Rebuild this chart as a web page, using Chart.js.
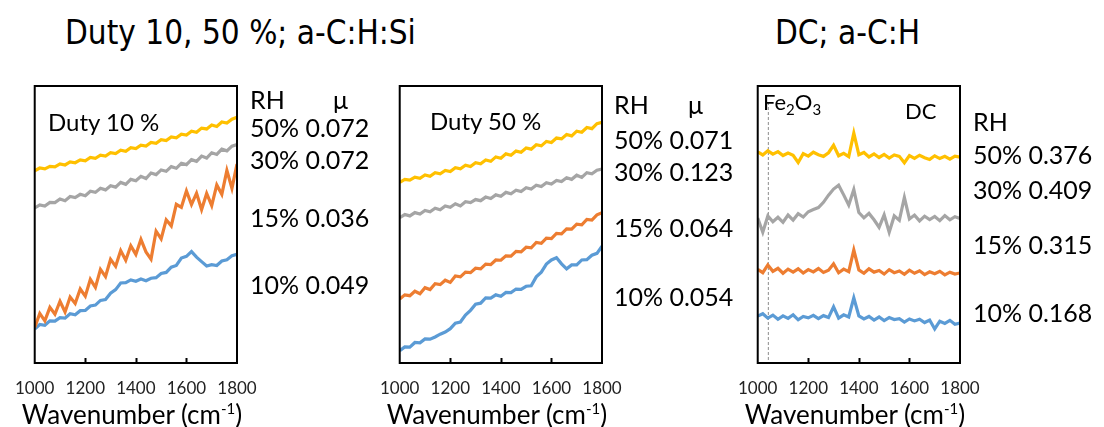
<!DOCTYPE html>
<html>
<head>
<meta charset="utf-8">
<script src="https://cdn.jsdelivr.net/npm/chart.js@4"></script>
<style>
  body { margin: 0; width: 1104px; height: 427px; background: #fff; position: relative; overflow: hidden; font-family: Lato, sans-serif; color: #000; }
  canvas { position: absolute; }
  .t { position: absolute; white-space: nowrap; line-height: 1; font-size: 25px; }
  .title { font-family: "Liberation Sans Narrow", "DejaVu Sans Condensed", sans-serif; font-size: 33px; top: 16px; }
  .ax { width: 300px; text-align: center; font-size: 26px; top: 401px; }
  .ax sup { font-size: 15px; vertical-align: 10px; line-height: 0; }
  sub { font-size: 15px; vertical-align: -5px; line-height: 0; }
</style>
</head>
<body>
<div class="t title" style="left:65px">Duty 10, 50 %; a-C:H:Si</div>
<div class="t title" style="left:775px">DC; a-C:H</div>

<canvas id="duty10" width="275" height="347" style="left:0;top:80px"></canvas>
<canvas id="duty50" width="275" height="347" style="left:365px;top:80px"></canvas>
<canvas id="dc" width="275" height="347" style="left:723px;top:80px"></canvas>

<!-- panel 1 -->
<div class="t" style="left:48px;top:110px;font-size:24px">Duty 10 %</div>
<div class="t" style="left:250px;top:87px">RH</div>
<div class="t" style="left:333px;top:87px">μ</div>
<div class="t" style="left:250px;top:115px">50% 0.072</div>
<div class="t" style="left:250px;top:147px">30% 0.072</div>
<div class="t" style="left:250px;top:205px">15% 0.036</div>
<div class="t" style="left:250px;top:272px">10% 0.049</div>
<div class="t ax" style="left:-18px">Wavenumber (cm<sup>-1</sup>)</div>

<!-- panel 2 -->
<div class="t" style="left:430px;top:109px;font-size:24px">Duty 50 %</div>
<div class="t" style="left:614px;top:92px">RH</div>
<div class="t" style="left:688px;top:92px">μ</div>
<div class="t" style="left:614px;top:127px">50% 0.071</div>
<div class="t" style="left:614px;top:159px">30% 0.123</div>
<div class="t" style="left:614px;top:215px">15% 0.064</div>
<div class="t" style="left:614px;top:284px">10% 0.054</div>
<div class="t ax" style="left:347px">Wavenumber (cm<sup>-1</sup>)</div>

<!-- panel 3 -->
<div class="t" style="left:763px;top:91px;font-size:22px">Fe<sub>2</sub>O<sub>3</sub></div>
<div class="t" style="left:905px;top:100px;font-size:22px">DC</div>
<div class="t" style="left:973px;top:109px">RH</div>
<div class="t" style="left:973px;top:142px">50% 0.376</div>
<div class="t" style="left:973px;top:177px">30% 0.409</div>
<div class="t" style="left:973px;top:232px">15% 0.315</div>
<div class="t" style="left:973px;top:300px">10% 0.168</div>
<div class="t ax" style="left:705px">Wavenumber (cm<sup>-1</sup>)</div>

<script>
// wavenumber axis (cm-1)
const wavenumbers = [1000,1020,1040,1060,1080,1100,1120,1140,1160,1180,1200,1220,1240,1260,1280,1300,1320,1340,1360,1380,1400,
  1420,1440,1460,1480,1500,1520,1540,1560,1580,1600,1620,1640,1660,1680,1700,1720,1740,1760,1780,1800];
const xTicks = [1000, 1200, 1400, 1600, 1800];
const fe2o3Line = 1042;

// Duty 10 %, a-C:H:Si (intensity, arbitrary offset units)
const duty10_rh50 = [69.4,70.4,70.1,71.0,70.8,71.9,71.5,72.6,72.3,73.3,73.0,74.2,73.9,75.0,74.7,75.9,75.6,76.8,76.4,77.7,77.4,
  78.6,78.3,79.6,79.3,80.6,80.3,81.6,81.3,82.6,82.3,83.7,83.3,84.8,84.5,85.9,85.4,87.0,86.6,88.0,88.7];
const duty10_rh30 = [56.0,57.1,56.7,58.0,57.9,59.2,58.6,60.1,59.7,60.9,60.4,62.0,61.6,63.1,62.5,64.0,63.5,65.2,64.5,66.3,65.8,
  67.4,66.6,68.6,68.0,69.7,69.2,70.9,70.3,72.1,71.6,73.4,72.8,74.7,74.0,75.9,75.3,77.2,76.6,78.3,78.9];
const duty10_rh15 = [12.8,17.9,15.2,20.1,17.6,22.3,18.4,23.8,21.5,26.7,24.1,30.2,27.3,33.8,31.2,37.4,34.9,40.6,37.1,42.3,39.2,
  44.6,40.1,37.5,47.6,44.8,51.7,49.5,57.3,56.2,62.1,57.2,61.3,55.4,61.2,56.8,64.3,60.9,69.5,63.1,71.8];
const duty10_rh10 = [12.3,13.9,13.6,15.2,15.1,16.4,16.2,17.8,17.4,18.9,19.0,20.6,20.9,22.6,22.9,25.2,26.5,28.9,29.0,30.0,29.5,
  30.3,29.7,30.6,30.8,32.3,32.7,34.6,35.2,37.9,38.5,40.2,38.2,36.6,35.0,35.5,35.2,36.8,37.3,38.7,39.2];

// Duty 50 %, a-C:H:Si
const duty50_rh50 = [65.2,66.3,66.0,67.1,66.7,67.9,67.4,68.7,68.3,69.5,69.1,70.5,70.1,71.4,70.9,72.3,71.9,73.3,72.8,74.4,73.9,
  75.5,75.0,76.5,76.1,77.6,77.2,78.8,78.4,80.0,79.6,81.2,80.9,82.5,82.0,83.7,83.3,85.0,84.6,86.4,86.9];
const duty50_rh30 = [52.5,53.6,53.1,54.3,53.8,55.1,54.6,55.9,55.3,56.7,56.2,57.5,56.7,58.2,57.9,59.0,58.6,59.9,59.4,60.7,60.2,
  61.6,61.1,62.4,61.9,63.3,62.8,64.2,63.7,65.1,64.6,65.9,65.5,66.9,66.3,67.8,67.0,68.7,68.3,69.6,70.0];
const duty50_rh15 = [23.1,24.6,24.3,25.9,25.0,27.2,26.5,28.6,28.3,29.9,29.1,31.4,31.1,32.8,32.6,34.2,34.0,35.7,35.5,37.2,37.1,
  38.7,38.6,40.3,40.1,41.8,41.6,43.5,43.2,45.1,44.9,46.8,46.6,48.4,48.3,50.1,49.9,51.8,51.6,53.5,54.2];
const duty50_rh10 = [4.4,5.8,5.7,7.4,7.3,8.7,8.6,9.4,10.4,11.2,12.4,14.4,14.8,17.3,19.0,21.2,21.6,23.5,23.4,24.6,24.1,
  25.5,25.4,26.7,26.6,27.7,27.9,31.1,32.8,35.7,37.2,38.0,35.8,34.0,35.4,35.4,37.2,37.3,38.9,39.6,42.2];

// DC, a-C:H
const dc_rh50 = [76.2,75.1,76.6,75.4,76.3,74.9,75.8,75.0,72.4,75.6,74.7,76.1,75.2,74.6,75.9,78.6,74.8,75.7,74.5,83.0,75.2,
  76.0,74.4,75.5,74.2,75.3,74.0,75.1,74.6,72.3,74.9,73.9,75.0,74.1,73.5,74.8,73.8,74.6,73.6,74.7,74.3];
const dc_rh30 = [52.3,47.2,53.1,51.0,52.6,50.8,53.4,51.6,53.9,52.7,54.6,55.4,56.1,58.0,60.6,62.8,64.2,60.7,57.0,62.6,54.3,
  52.4,54.0,51.7,49.0,53.5,47.2,53.1,51.5,59.8,52.0,53.4,51.3,53.0,51.8,52.9,51.4,53.2,51.7,52.8,52.2];
const dc_rh15 = [33.8,32.6,35.4,33.1,34.2,32.4,33.9,32.8,34.0,32.5,33.7,32.9,34.1,32.7,33.5,35.8,32.6,33.9,33.0,40.8,33.6,
  32.4,34.0,32.8,33.4,32.1,33.7,32.6,33.2,32.0,33.5,32.4,33.3,31.9,32.9,32.2,33.1,31.8,32.8,32.1,32.5];
const dc_rh10 = [16.9,17.8,16.2,17.3,15.8,17.0,16.1,17.4,15.6,16.8,16.3,17.2,16.0,17.1,16.4,20.3,16.2,17.4,16.6,23.5,17.0,
  15.9,16.8,15.5,16.6,15.3,16.4,15.7,16.0,14.8,15.9,15.2,15.8,14.6,15.5,12.3,15.1,14.3,15.4,14.0,14.4];

const colors = { rh50: '#FFC000', rh30: '#A5A5A5', rh15: '#ED7D31', rh10: '#5B9BD5' };

const framePlugin = {
  id: 'frame',
  beforeDatasetsDraw(chart, args, opts) {
    if (opts.marker == null) return;
    const { ctx, chartArea: a, scales: { x } } = chart;
    const px = x.getPixelForValue(opts.marker);
    ctx.save();
    ctx.strokeStyle = '#8c8c8c';
    ctx.lineWidth = 1;
    ctx.setLineDash([3, 2]);
    ctx.beginPath();
    ctx.moveTo(px, a.top + 16);
    ctx.lineTo(px, a.bottom);
    ctx.stroke();
    ctx.restore();
  },
  afterDatasetsDraw(chart) {
    const { ctx, chartArea: a, scales: { x } } = chart;
    ctx.save();
    ctx.strokeStyle = '#000';
    ctx.lineWidth = 2;
    ctx.strokeRect(a.left, a.top, a.width, a.height);
    x.ticks.forEach(t => {
      if (t.value > x.min && t.value < x.max) {
        const px = Math.round(x.getPixelForValue(t.value)) + 0.5;
        ctx.beginPath();
        ctx.moveTo(px, a.bottom);
        ctx.lineTo(px, a.bottom - 5);
        ctx.stroke();
      }
    });
    ctx.restore();
  }
};

function line(data, color) {
  return {
    data: wavenumbers.map((w, i) => ({ x: w, y: data[i] })),
    borderColor: color,
    borderWidth: 3.2,
    pointRadius: 0,
    tension: 0,
    fill: false
  };
}

function panel(id, rh50, rh30, rh15, rh10, marker) {
  new Chart(document.getElementById(id), {
    type: 'line',
    data: {
      datasets: [
        line(rh50, colors.rh50),
        line(rh30, colors.rh30),
        line(rh15, colors.rh15),
        line(rh10, colors.rh10)
      ]
    },
    options: {
      responsive: false,
      animation: false,
      layout: { padding: { left: 28, right: 38, top: 6, bottom: 0 } },
      plugins: { legend: { display: false }, tooltip: { enabled: false }, frame: { marker: marker } },
      scales: {
        x: {
          type: 'linear',
          min: 1000,
          max: 1800,
          afterBuildTicks: s => { s.ticks = xTicks.map(v => ({ value: v })); },
          afterFit: s => { s.height = 64; },
          grid: { display: false, drawTicks: false },
          border: { display: false },
          ticks: {
            autoSkip: false,
            maxRotation: 0,
            padding: 15,
            color: '#222',
            font: { family: 'Lato', size: 17 },
            callback: v => String(v)
          }
        },
        y: { display: false, min: 0, max: 100 }
      }
    },
    plugins: [framePlugin]
  });
}

panel('duty10', duty10_rh50, duty10_rh30, duty10_rh15, duty10_rh10, null);
panel('duty50', duty50_rh50, duty50_rh30, duty50_rh15, duty50_rh10, null);
panel('dc', dc_rh50, dc_rh30, dc_rh15, dc_rh10, fe2o3Line);
</script>
</body>
</html>
